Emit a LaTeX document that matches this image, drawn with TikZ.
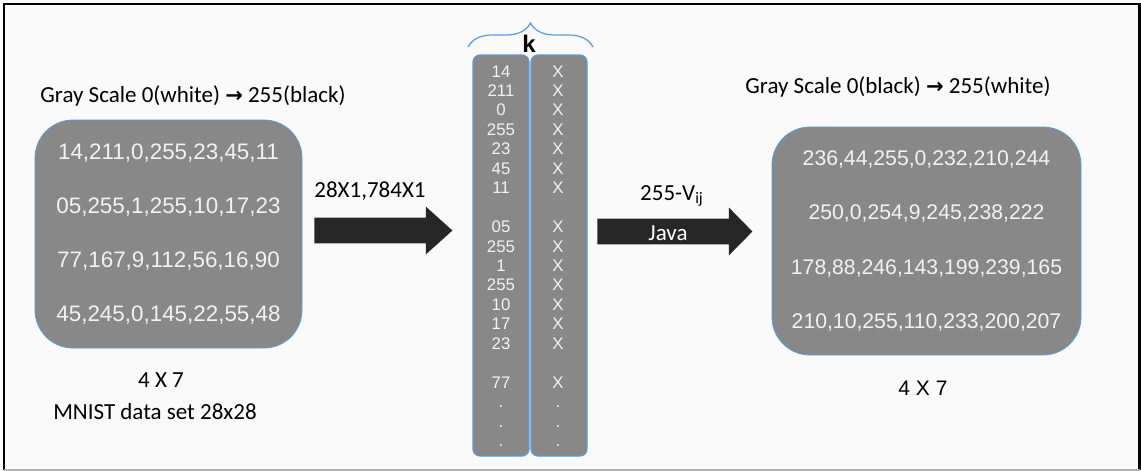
\documentclass[tikz,border=0pt]{standalone}
\usepackage{fontspec}
\setmainfont{Carlito}
\newfontfamily\numfont{Liberation Sans}
\newfontfamily\symfont{DejaVu Sans}
\usetikzlibrary{shapes.arrows,decorations.pathreplacing}
\definecolor{boxgray}{HTML}{888888}
\definecolor{edgeblue}{HTML}{5B9BD5}
\definecolor{arrowblack}{HTML}{262626}
\definecolor{paper}{HTML}{FAFAFA}
\tikzset{
  databox/.style={fill=boxgray, draw=edgeblue, line width=0.4pt, rounded corners=19pt,
    text=white!95!black, align=center, inner sep=0pt, minimum height=114pt},
  colbox/.style={fill=boxgray, draw=edgeblue, line width=0.6pt, rounded corners=3.5pt,
    minimum width=28pt, minimum height=200.5pt, inner sep=0pt},
  colnum/.style={text=white!95!black, font=\numfont\fontsize{8.4}{10}\selectfont, anchor=base, inner sep=0pt},
  note/.style={font=\fontsize{11.5}{13}\selectfont, anchor=base, inner sep=0pt},
  blockarrow/.style={single arrow, fill=arrowblack, inner xsep=0pt, inner ysep=6.25pt,
    text height=0pt, text depth=0pt, single arrow head extend=5.5pt, anchor=tail}
}
\begin{document}
\begin{tikzpicture}[x=0.5pt,y=-0.5pt]
\fill[paper] (0,0) rectangle (1141,471);
\useasboundingbox (0,0) rectangle (1141,471);
\draw[black, line width=1.2pt] (4,470) -- (4,4) -- (1139.5,4) -- (1139.5,470);
\draw[black!30, line width=1pt] (4,469.5) -- (1139.5,469.5);
\node[databox, minimum width=133.5pt, font=\numfont\fontsize{11.2}{27}\selectfont] (grid) at (168.5,234)
  {14,211,0,255,23,45,11\\05,255,1,255,10,17,23\\77,167,9,112,56,16,90\\45,245,0,145,22,55,48};
\node[databox, minimum width=154.5pt, font=\numfont\fontsize{10.6}{27.2}\selectfont] (inv) at (926.5,241)
  {236,44,255,0,232,210,244\\250,0,254,9,245,238,222\\178,88,246,143,199,239,165\\210,10,255,110,233,200,207};
\node[note] (leftscale) at (193,102) {Gray Scale 0(white) {\symfont\bfseries\fontsize{10.5}{12}\selectfont→} 255(black)};
\node[note] (rightscale) at (898,93) {Gray Scale 0(black) {\symfont\bfseries\fontsize{10.5}{12}\selectfont→} 255(white)};
\node[note] (dimL) at (161,387) {4 X 7};
\node[note] (mnist) at (155,419) {MNIST data set 28x28};
\node[note, font=\numfont\fontsize{10.5}{12}\selectfont] (dimR) at (923,395) {4 X 7};
\node[colbox] (vecA) at (501,255.5) {};
\node[colbox] (vecB) at (559,255.5) {};
\foreach \r/\v in {0/14,1/211,2/0,3/255,4/23,5/45,6/11,8/05,9/255,10/1,11/255,12/10,13/17,14/23,16/77,17/.,18/.,19/.}
  \node[colnum] (a\r) at (501,{77+19.45*\r}) {\v};
\foreach \r/\v in {0/X,1/X,2/X,3/X,4/X,5/X,6/X,8/X,9/X,10/X,11/X,12/X,13/X,14/X,16/X,17/.,18/.,19/.}
  \node[colnum] (b\r) at (558,{77+19.45*\r}) {\v};
\coordinate (kL) at (468,47);
\coordinate (kR) at (593,47);
\draw[edgeblue, line width=0.6pt, decorate, decoration={brace, amplitude=12pt}] (kL) -- (kR);
\node[note, font=\numfont\bfseries\fontsize{12}{14}\selectfont] (k) at (529,53) {k};
\node[blockarrow, minimum height=69pt, single arrow tip angle=84] (flat) at (314,230.5) {};
\node[note] (shape) at (370,197) {28X1,784X1};
\node[blockarrow, minimum height=77.5pt, single arrow tip angle=91] (java) at (597,231.5) {};
\node[note] (formula) at (672,200) {255-V\textsubscript{ij}};
\node[note, text=white] (javatext) at (668,240) {Java};
\end{tikzpicture}
\end{document}
